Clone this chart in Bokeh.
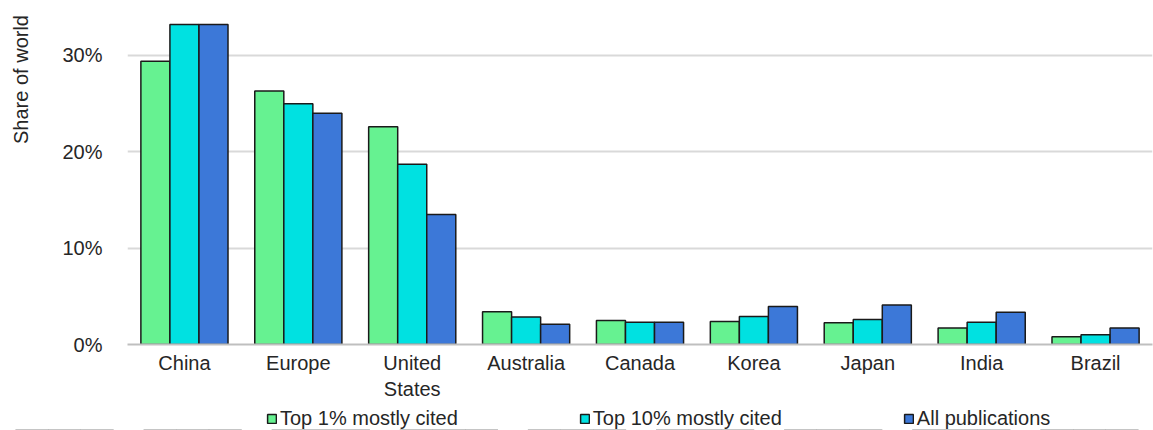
from math import pi
from bokeh.plotting import figure
from bokeh.layouts import row, column
from bokeh.models import (Range1d, FactorRange, Legend, LegendItem, FixedTicker,
                          PrintfTickFormatter, ColumnDataSource)
from bokeh.core.properties import value
from bokeh.transform import dodge
from bokeh.embed import file_html
from bokeh.resources import INLINE

categories = ["China", "Europe", "United\nStates", "Australia", "Canada", "Korea", "Japan", "India", "Brazil"]
top1 = [29.4, 26.3, 22.6, 3.4, 2.5, 2.4, 2.25, 1.7, 0.8]
top10 = [33.2, 25.0, 18.7, 2.85, 2.3, 2.9, 2.6, 2.3, 1.0]
allpub = [33.2, 24.0, 13.5, 2.1, 2.3, 3.95, 4.1, 3.35, 1.7]
series_names = ["Top 1% mostly cited", "Top 10% mostly cited", "All publications"]
y_ticks = [0, 10, 20, 30]
y_label = "Share of world"

colors = ["#66f291", "#00e1e1", "#3c78d8"]
FONT = "Liberation Sans"
TXT = "#262626"
FS = "20px"
LABEL_W = 40
MAIN_H = 404
LEG_H = 26

src = ColumnDataSource(dict(cat=categories, s0=top1, s1=top10, s2=allpub))
keys = ["s0", "s1", "s2"]
w = 0.255

# ---- main chart
p = figure(frame_width=1025, frame_height=343, output_backend="svg", toolbar_location=None,
           x_range=FactorRange(*categories), y_range=Range1d(0, 35.6),
           min_border_left=127 - LABEL_W, min_border_right=1, min_border_top=1,
           min_border_bottom=MAIN_H - 344)
p.outline_line_color = None

for i, (key, c) in enumerate(zip(keys, colors)):
    p.vbar(x=dodge("cat", (i - 1) * w, range=p.x_range), top=key, width=w, source=src,
           fill_color=c, line_color="#1a1a1a", line_width=1.5)

p.xgrid.grid_line_color = None
p.ygrid.grid_line_color = "#d9d9d9"
p.ygrid.grid_line_width = 2
p.yaxis.ticker = FixedTicker(ticks=y_ticks)
p.yaxis.formatter = PrintfTickFormatter(format="%d%%")
p.yaxis.axis_line_color = None
p.yaxis.major_tick_line_color = None
p.yaxis.minor_tick_line_color = None
p.yaxis.major_label_standoff = 19

p.xaxis.axis_line_color = "#bfbfbf"
p.xaxis.axis_line_width = 2
p.xaxis.major_tick_line_color = None
p.xaxis.minor_tick_line_color = None
p.xaxis.major_label_standoff = 1

for ax in (p.xaxis, p.yaxis):
    ax.major_label_text_font = FONT
    ax.major_label_text_font_size = FS
    ax.major_label_text_color = TXT

# ---- narrow strip holding the rotated y-axis title near the top
pl = figure(frame_width=LABEL_W, frame_height=MAIN_H, output_backend="svg", toolbar_location=None,
            x_range=Range1d(0, LABEL_W), y_range=Range1d(MAIN_H, 0),
            x_axis_location=None, y_axis_location=None,
            min_border_left=0, min_border_right=0, min_border_top=0, min_border_bottom=0)
pl.grid.visible = False
pl.outline_line_color = None
pl.text(x=[20], y=[78], text=[y_label], angle=pi / 2, text_align="center", text_baseline="middle",
        text_font=value(FONT), text_font_size=value(FS), text_color=value(TXT))

# ---- legend strip (same series, far outside its visible y-range; only the legend shows)
pg = figure(frame_width=1153, frame_height=LEG_H, output_backend="svg", toolbar_location=None,
            x_range=FactorRange(*categories), y_range=Range1d(1000, 1001),
            x_axis_location=None, y_axis_location=None,
            min_border_left=0, min_border_right=0, min_border_top=0, min_border_bottom=0)
pg.grid.visible = False
pg.outline_line_color = None
items = []
for i, (key, name, c) in enumerate(zip(keys, series_names, colors)):
    r = pg.vbar(x=dodge("cat", (i - 1) * w, range=pg.x_range), top=key, width=w, source=src,
                fill_color=c, line_color="#1a1a1a", line_width=1.5)
    items.append(LegendItem(label=name, renderers=[r]))
legend = Legend(items=items, orientation="horizontal", spacing=121, glyph_width=11, glyph_height=11,
                label_standoff=3, padding=0, margin=0, border_line_color=None,
                background_fill_alpha=0, label_text_font=FONT, label_text_font_size=FS,
                label_text_color=TXT, location=(266, 0))
pg.add_layout(legend)

lay = column(row(pl, p, spacing=0), pg, spacing=0)
open("out.html", "w").write(file_html(lay, INLINE))
